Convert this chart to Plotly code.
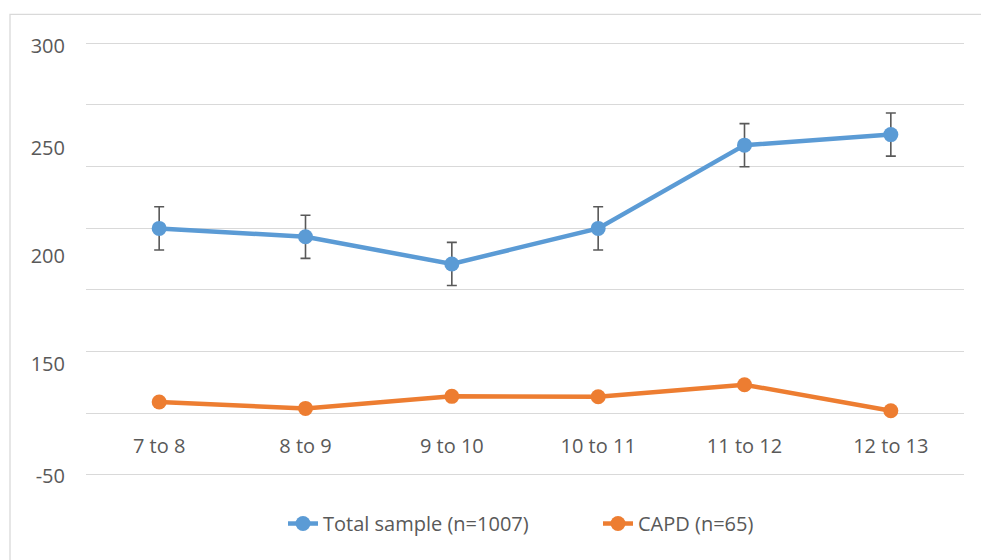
import plotly.graph_objects as go

categories = ["7 to 8", "8 to 9", "9 to 10", "10 to 11", "11 to 12", "12 to 13"]
total_sample = [214.2, 210.3, 197.7, 214.2, 252.8, 257.7]
total_err = [10, 10, 10, 10, 10, 10]
capd = [133.7, 130.7, 136.3, 136.1, 141.7, 129.6]

y_tickvals = [299, 251.6, 201.2, 151.4, 99.5]
y_ticktext = ["300", "250", "200", "150", "-50"]
grid_vals = [300 - 200 * k / 7 for k in range(8)]

FONT = "Open Sans"
TXT = "#595959"
BLUE = "#5B9BD5"
ORANGE = "#ED7D31"
GRID = "#D9D9D9"

fig = go.Figure()
fig.add_trace(go.Scatter(
    x=categories, y=total_sample, name="Total sample (n=1007)",
    mode="lines+markers",
    line=dict(color=BLUE, width=4.5),
    marker=dict(color=BLUE, size=15),
    error_y=dict(type="data", array=total_err, visible=True,
                 color="#595959", thickness=1.6, width=5),
))
fig.add_trace(go.Scatter(
    x=categories, y=capd, name="CAPD (n=65)",
    mode="lines+markers",
    line=dict(color=ORANGE, width=4.5),
    marker=dict(color=ORANGE, size=15),
))

L, R, T, B = 86, 964, 43, 475
W, H = 981, 560
pw, ph = R - L, B - T
Y0, Y1 = 97.5, 302.5

def px_x(p):
    return (p - L) / pw

unit = ph / 200.0
top_m = T - (Y1 - 300) * unit
bot_m = (H - B) - (100 - Y0) * unit
plot_h = H - top_m - bot_m

def py_paper(p):
    return (H - bot_m - p) / plot_h

fig.add_shape(type="rect", xref="paper", yref="paper",
              x0=px_x(10), x1=px_x(990), y0=py_paper(570), y1=py_paper(14),
              line=dict(color=GRID, width=1.3), fillcolor="rgba(0,0,0,0)",
              layer="below")

fig.update_layout(
    width=W, height=H,
    margin=dict(l=L, r=W - R, t=top_m, b=bot_m),
    paper_bgcolor="white", plot_bgcolor="white",
    font=dict(family=FONT, size=20, color=TXT),
    showlegend=True,
    legend=dict(orientation="h", x=px_x(283), xanchor="left",
                y=py_paper(524), yanchor="middle",
                font=dict(family=FONT, size=20, color=TXT),
                itemwidth=30, entrywidth=270, tracegroupgap=0),
    xaxis=dict(
        type="category", range=[-0.5, 5.5],
        anchor="free", position=py_paper(413.5),
        showline=False, showgrid=False, zeroline=False,
        ticks="", ticklabelstandoff=19,
        tickfont=dict(family=FONT, size=20, color=TXT),
        fixedrange=True,
    ),
    yaxis=dict(
        range=[Y0, Y1],
        tickmode="array", tickvals=y_tickvals, ticktext=y_ticktext,
        showgrid=False, zeroline=False, showline=False,
        ticks="", ticklabelstandoff=20,
        tickfont=dict(family=FONT, size=20, color=TXT),
        minor=dict(tickmode="array", tickvals=grid_vals, showgrid=True,
                   gridcolor=GRID, gridwidth=1.3, ticks=""),
        fixedrange=True,
    ),
)

fig.write_html("out.html", config={"displayModeBar": False},
               post_script="document.body.style.margin='0';")
